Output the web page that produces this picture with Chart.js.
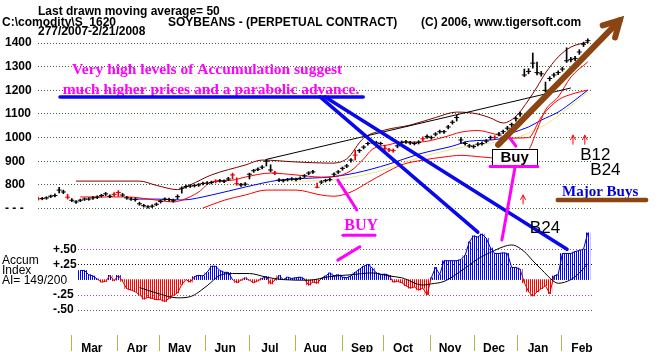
<!DOCTYPE html>
<html>
<head>
<meta charset="utf-8">
<script src="https://cdn.jsdelivr.net/npm/chart.js"></script>
<style>
  body { margin: 0; background: #fff; }
  canvas { display: block; }
</style>
</head>
<body>
<canvas id="chart" width="664" height="352"></canvas>
<script>
// one step on the x axis = 2 trading days, starting 2/7/2007
const priceClose = [741,742,745,752,755,778,770,748,735,728,
  735,740,740,745,748,755,762,752,760,768,
  757,745,740,738,720,712,707,710,718,730,
  740,738,733,750,786,793,795,797,800,806,
  808,810,815,817,815,825,842,805,800,803,
  845,860,866,875,900,863,850,820,818,822,
  825,823,828,838,850,855,790,812,818,822,
  845,855,870,880,905,926,945,960,975,982,
  978,975,955,948,945,965,980,982,978,975,
  980,995,1005,1000,1015,1025,1025,1045,1065,1085,
  990,975,965,962,972,975,985,1000,1000,1015,
  1025,1040,1055,1080,1100,1265,1280,1315,1275,1270,
  1200,1250,1265,1275,1290,1325,1330,1335,1362,1395,1410];
const priceHigh = [748,747,750,757,762,790,778,760,742,734,
  740,745,746,751,754,760,768,758,767,776,
  764,751,746,744,727,718,713,716,724,736,
  745,744,740,758,792,799,801,803,806,812,
  814,816,822,823,821,832,850,830,807,810,
  850,866,872,882,908,885,858,827,824,828,
  831,829,834,844,856,862,808,818,824,829,
  851,861,876,887,911,947,951,966,981,988,
  985,981,968,955,952,971,986,989,984,982,
  987,1003,1012,1007,1021,1032,1031,1052,1072,1095,
  1000,982,972,969,979,982,992,1007,1008,1022,
  1032,1048,1062,1088,1108,1290,1292,1358,1320,1280,
  1235,1258,1273,1283,1298,1380,1340,1344,1372,1404,1418];
const priceLow = [735,737,739,746,749,766,763,740,729,722,
  729,734,735,739,742,748,755,746,752,752,
  751,739,734,731,714,706,701,704,712,723,
  734,731,727,740,765,786,789,791,794,800,
  802,804,808,811,809,818,825,798,794,797,
  825,853,860,868,880,855,843,814,812,816,
  819,817,822,831,843,848,787,805,812,816,
  836,848,862,873,896,905,937,952,968,975,
  972,968,940,941,938,957,973,975,971,969,
  973,987,997,993,1007,1018,1018,1037,1057,1070,
  975,968,958,955,965,968,978,992,993,1007,
  1017,1032,1046,1070,1090,1258,1270,1294,1265,1260,
  1193,1240,1256,1266,1281,1318,1320,1326,1352,1385,1400];
const redBarDays = [0,7,18,19,42,46,47,56,66,75,82,83,84,91,108];

const maroonBand = [[9,816],[24,816],[28,798],[33,780],[36,800],[41,842],[49,884],[53,905],
  [61,897],[69,892],[73,910],[77,998],[82,1032],[88,1053],[94,1085],[99,1108],[104,1100],
  [107,1083],[110,1062],[113,1090],[116,1159],[118,1214],[120,1273],[123,1341],[126,1383],[130,1404]];
const redUpper = [[10,749],[21,749],[27,738],[32,728],[34,735],[38,770],[41,812],[46,820],
  [49,833],[55,850],[61,842],[67,833],[70,835],[74,860],[77,910],[79,950],[83,970],[86,981],
  [90,981],[96,1002],[100,1023],[104,1030],[108,1015],[112,998],[116,1000],[119,1087],
  [123,1159],[127,1188],[130,1201]];
const redLower = [[39,702],[44,735],[49,757],[54,778],[61,778],[67,757],[70,752],[74,770],
  [78,810],[82,850],[86,885],[91,905],[96,918],[100,925],[105,918],[110,912],[114,930],
  [116,947],[118,1032],[120,1117],[123,1172],[126,1256],[130,1320]];
const movingAvg50 = [[23,740],[28,740],[34,736],[41,757],[49,791],[57,820],[65,829],[69,833],
  [75,850],[83,888],[90,930],[98,964],[102,985],[109,994],[112,1019],[116,1045],[119,1074],
  [123,1108],[127,1159],[130,1201]];
const yellowLine = [[60,815],[70,822],[80,855],[90,915],[100,958],[108,980],[114,1005],
  [120,1055],[125,1120],[130,1192]];
const trendLine = [[54,908],[126,1210]];

const accumStart = 10;
const accumIndex = [0.15,0.15,0.08,0.06,0.01,-0.04,-0.03,0.07,-0.02,0.07,
  -0.03,-0.15,-0.17,-0.20,-0.25,-0.32,-0.29,-0.31,-0.33,-0.33,
  -0.36,-0.31,-0.26,-0.22,-0.08,0.00,-0.04,0.05,0.07,0.06,
  0.12,0.22,0.22,0.15,0.12,0.12,0.00,-0.05,-0.01,0.03,
  -0.01,-0.05,-0.02,0.02,0.05,-0.07,-0.01,0.07,0.00,0.04,
  0.02,0.03,0.04,0.01,-0.09,-0.04,-0.06,0.02,0.06,0.11,
  0.06,0.08,0.04,0.03,0.06,0.12,0.17,0.22,0.25,0.19,
  0.11,0.08,0.09,0.07,-0.04,-0.03,-0.05,-0.10,-0.14,-0.12,
  -0.17,-0.14,-0.25,0.03,0.20,0.08,0.31,0.31,0.31,0.31,
  0.33,0.40,0.62,0.72,0.70,0.75,0.68,0.52,0.43,0.43,
  0.44,0.43,0.20,0.20,0.17,-0.05,-0.20,-0.27,-0.20,-0.15,
  -0.10,-0.23,0.06,0.08,0.43,0.43,0.43,0.46,0.48,0.50,0.77];
const accumAverage = [[24,-0.13],[28,-0.22],[33,-0.30],[36,-0.28],[40,-0.10],[43,0.07],
  [46,0.10],[50,0.10],[54,0.04],[58,0.00],[64,-0.01],[69,0.05],[74,0.08],[79,0.11],[83,0.06],
  [86,0.03],[91,-0.09],[93,-0.07],[96,-0.03],[100,0.14],[104,0.34],[108,0.48],[110,0.54],
  [112,0.57],[115,0.46],[117,0.31],[119,0.17],[122,-0.03],[123,-0.06],[126,0.00],[128,0.11],[130,0.26]];

const monthStarts = [8, 18.7, 28.8, 39.5, 50.1, 60.8, 71.9, 81.6, 92.7, 103.1, 113.5, 123.9];
const monthLabels = ['Mar','Apr','May','Jun','Jul','Aug','Sep','Oct','Nov','Dec','Jan','Feb'];
const priceTicks = [700, 800, 900, 1000, 1100, 1200, 1300, 1400];
const accumTicks = [-0.5, -0.25, 0.25, 0.5];

const SANS = 'Arial, "Liberation Sans", sans-serif';
const SERIF = '"Times New Roman", "Liberation Serif", serif';

const canvas = document.getElementById('chart');
const ctx0 = canvas.getContext('2d');

function stripes(color) {
  const c = document.createElement('canvas');
  c.width = 2; c.height = 1;
  const g = c.getContext('2d');
  g.fillStyle = color;
  g.fillRect(0, 0, 1, 1);
  return ctx0.createPattern(c, 'repeat');
}
const blueStripe = stripes('#0000ff');
const redStripe = stripes('#ff0000');

const toXY = pairs => pairs.map(p => ({x: p[0], y: p[1]}));
const days = priceClose.map((_, i) => i);
const barColor = i => redBarDays.includes(i) ? '#e00000' : '#000000';
const accumPoints = accumIndex.map((v, i) => ({x: accumStart + i, y: v}));

function line(data, color, order) {
  return { type: 'line', data: toXY(data), borderColor: color, borderWidth: 1, pointRadius: 0,
    cubicInterpolationMode: 'monotone', yAxisID: 'y', order: order };
}

function seg(ctx, x1, y1, x2, y2, color, width) {
  ctx.strokeStyle = color;
  ctx.lineWidth = width;
  ctx.beginPath();
  ctx.moveTo(x1, y1);
  ctx.lineTo(x2, y2);
  ctx.stroke();
}

function arrow(ctx, x1, y1, x2, y2, head, color, width) {
  seg(ctx, x1, y1, x2, y2, color, width);
  const a = Math.atan2(y2 - y1, x2 - x1);
  ctx.beginPath();
  ctx.moveTo(x2 - head * Math.cos(a - 0.5), y2 - head * Math.sin(a - 0.5));
  ctx.lineTo(x2, y2);
  ctx.lineTo(x2 - head * Math.cos(a + 0.5), y2 - head * Math.sin(a + 0.5));
  ctx.stroke();
}

function text(ctx, str, x, y, font, color, align) {
  ctx.font = font;
  ctx.fillStyle = color;
  ctx.textAlign = align || 'left';
  ctx.textBaseline = 'alphabetic';
  ctx.fillText(str, x, y);
}

const noPad = s => { s.paddingTop = 0; s.paddingBottom = 0; s.paddingLeft = 0; s.paddingRight = 0; };

const notes = {
  id: 'notes',
  beforeDraw(chart) {
    const ctx = chart.ctx;
    ctx.save();
    ctx.fillStyle = '#fff';
    ctx.fillRect(0, 0, chart.width, chart.height);
    ctx.restore();
  },
  beforeDatasetsDraw(chart) {
    const ctx = chart.ctx;
    const {x, yA} = chart.scales;
    const left = Math.round(x.getPixelForValue(accumStart)) - 2;
    const colors = {'0.5': '#a040a0', '0.25': '#101010', '-0.25': '#a050a0', '-0.5': '#606060'};
    ctx.save();
    ctx.setLineDash([1, 2]);
    accumTicks.forEach(v => {
      const y = Math.round(yA.getPixelForValue(v)) + 0.5;
      seg(ctx, left, y, chart.chartArea.right, y, colors[String(v)], 1);
    });
    ctx.restore();
  },
  afterDraw(chart) {
    const ctx = chart.ctx;
    const X = u => chart.scales.x.getPixelForValue(u);
    const P = v => chart.scales.y.getPixelForValue(v);
    const A = v => chart.scales.yA.getPixelForValue(v);
    ctx.save();
    ctx.lineCap = 'round';

    // header
    const hb = 'bold 12px ' + SANS;
    text(ctx, 'Last drawn moving average= 50', 38, 15, hb, '#000');
    text(ctx, 'C:\\comodity\\S_1620', 2, 26, hb, '#000');
    text(ctx, '277/2007-2/21/2008', 38, 35, hb, '#000');
    text(ctx, 'SOYBEANS - (PERPETUAL CONTRACT)', 168, 26, hb, '#000');
    text(ctx, '(C) 2006, www.tigersoft.com', 421, 26, hb, '#000');

    // accum index caption
    const cf = '12px ' + SANS;
    text(ctx, 'Accum', 2, 264, cf, '#000');
    text(ctx, 'Index', 2, 274, cf, '#000');
    text(ctx, 'AI= 149/200', 2, 284, cf, '#000');

    // magenta comment
    const mf = 'bold 15.5px ' + SERIF;
    text(ctx, 'Very high levels of Accumulation suggest', X(40), P(1268), mf, '#ff00ff', 'center');
    text(ctx, 'much higher prices and a parabolic advance.', X(40.9), P(1186), mf, '#ff00ff', 'center');

    // blue pointer lines
    seg(ctx, X(5.2), P(1172), X(76.9), P(1172), '#0808f0', 3.5);
    seg(ctx, X(66.7), P(1172), X(104), A(0.78), '#0808f0', 3.5);
    seg(ctx, X(67.9), P(1172), X(125.1), A(0.50), '#0808f0', 3.5);

    // magenta BUY
    seg(ctx, X(70.9), P(820), X(75.4), P(694), '#ff00ff', 3);
    text(ctx, 'BUY', X(76.4), A(0.82), 'bold 16px ' + SERIF, '#ff00ff', 'center');
    seg(ctx, X(72.1), A(0.73), X(79.7), A(0.73), '#ff00ff', 3);
    seg(ctx, X(76.1), A(0.54), X(70.9), A(0.32), '#ff00ff', 3);

    // Buy box
    seg(ctx, X(111.6), P(998), X(113), P(964), '#ff00ff', 3);
    seg(ctx, X(112.8), P(875), X(109.7), A(0.65), '#ff00ff', 3);
    const bx = X(107.4), by = P(952), bw = X(118) - bx, bh = P(884) - by;
    ctx.fillStyle = '#fff';
    ctx.fillRect(bx, by, bw, bh);
    ctx.lineWidth = 1;
    ctx.strokeStyle = '#000';
    ctx.strokeRect(Math.round(bx) + 0.5, Math.round(by) + 0.5, Math.round(bw), Math.round(bh));
    text(ctx, 'Buy', bx + bw / 2, by + bh - 3, 'bold 15px ' + SANS, '#000', 'center');
    seg(ctx, X(106.9), P(878), X(118.2), P(878), '#ff00ff', 3);

    // brown arrow
    arrow(ctx, X(108.8), P(969), X(137.6), P(1497), 18, '#8b4513', 6);

    // small red arrows
    arrow(ctx, X(126.5), P(972), X(126.5), P(1010), 5, '#ff0000', 1);
    arrow(ctx, X(129.3), P(972), X(129.3), P(1010), 5, '#ff0000', 1);
    arrow(ctx, X(114.7), P(719), X(114.7), P(757), 5, '#ff0000', 1);

    // signal labels
    const sf = '17px ' + SANS;
    text(ctx, 'B12', X(128.2), P(905), sf, '#000');
    text(ctx, 'B24', X(130.6), P(842), sf, '#000');
    text(ctx, 'B24', X(116.3), A(0.77), sf, '#000');
    text(ctx, 'Major Buys', X(123.9), P(753), 'bold 15px ' + SERIF, '#0000dd');
    seg(ctx, X(122.9), P(736), X(143.8), P(736), '#8b4513', 4.5);

    ctx.restore();
  }
};

new Chart(canvas, {
  type: 'line',
  data: {
    datasets: [
      { type: 'line', data: days.map(i => ({x: i, y: priceClose[i]})), showLine: false,
        pointStyle: 'line', pointRadius: 2.5, pointBorderWidth: 1,
        pointBorderColor: c => barColor(c.dataIndex), yAxisID: 'y', order: 0 },
      { type: 'bar', data: days.map(i => ({x: i, y: [priceLow[i], priceHigh[i]]})),
        backgroundColor: c => barColor(c.dataIndex), barThickness: 1, grouped: false,
        yAxisID: 'y', order: 1 },
      line(trendLine, '#000000', 2),
      line(maroonBand, '#800000', 3),
      line(redUpper, '#ff0000', 3),
      line(redLower, '#ff0000', 3),
      line(movingAvg50, '#0000ff', 3),
      line(yellowLine, 'rgba(230,220,80,0.7)', 4),
      { type: 'line', data: toXY(accumAverage), borderColor: '#000', borderWidth: 1, pointRadius: 0,
        cubicInterpolationMode: 'monotone', yAxisID: 'yA', order: 5 },
      { type: 'line', data: accumPoints, borderWidth: 1, pointRadius: 0, borderColor: '#0000b0',
        segment: { borderColor: c => (c.p0.parsed.y < 0 || c.p1.parsed.y < 0) ? '#d00000' : '#0000b0' },
        yAxisID: 'yA', order: 6 },
      { type: 'bar', data: accumPoints,
        backgroundColor: c => (c.raw && c.raw.y < 0) ? redStripe : blueStripe,
        barPercentage: 1, categoryPercentage: 1, grouped: false, yAxisID: 'yA', order: 7 }
    ]
  },
  options: {
    responsive: false,
    devicePixelRatio: 1,
    animation: false,
    events: [],
    layout: { padding: { left: 5, right: 72, top: 31, bottom: 0 } },
    plugins: { legend: { display: false }, tooltip: { enabled: false } },
    scales: {
      x: {
        type: 'linear', min: 0, max: 131, offset: false,
        afterBuildTicks: s => { s.ticks = monthStarts.map(v => ({value: v})); },
        afterFit: s => { s.height = 17; noPad(s); },
        border: { display: false },
        grid: { drawOnChartArea: false, drawTicks: true, tickLength: 16, tickColor: '#b4b450', offset: false },
        ticks: {
          callback: (v, i) => monthLabels[i],
          autoSkip: false, maxRotation: 0, minRotation: 0,
          labelOffset: 20, padding: -10, color: '#000',
          font: { family: SANS, size: 12, weight: 'bold' }
        }
      },
      y: {
        type: 'linear', position: 'left', min: 165, max: 1451, weight: 10,
        afterBuildTicks: s => { s.ticks = priceTicks.map(v => ({value: v})); },
        afterFit: s => { s.width = 33; noPad(s); },
        border: { display: false, dash: [1, 2] },
        grid: { color: '#3c6e3c', drawTicks: false },
        ticks: {
          callback: v => v === 700 ? '- - -' : String(v),
          crossAlign: 'far', color: '#000',
          font: { family: SANS, size: 12, weight: 'bold' }
        }
      },
      yA: {
        type: 'linear', position: 'left', min: -0.911, max: 4.089, weight: 0,
        afterBuildTicks: s => { s.ticks = accumTicks.map(v => ({value: v})); },
        afterFit: s => { s.width = 0; noPad(s); },
        border: { display: false },
        grid: { display: false, drawTicks: false },
        ticks: {
          mirror: true, padding: 15, color: '#000',
          callback: v => (v > 0 ? '+' : '-') + Math.abs(v).toFixed(2).slice(1),
          font: { family: SANS, size: 12, weight: 'bold' }
        }
      }
    }
  },
  plugins: [notes]
});
</script>
</body>
</html>
